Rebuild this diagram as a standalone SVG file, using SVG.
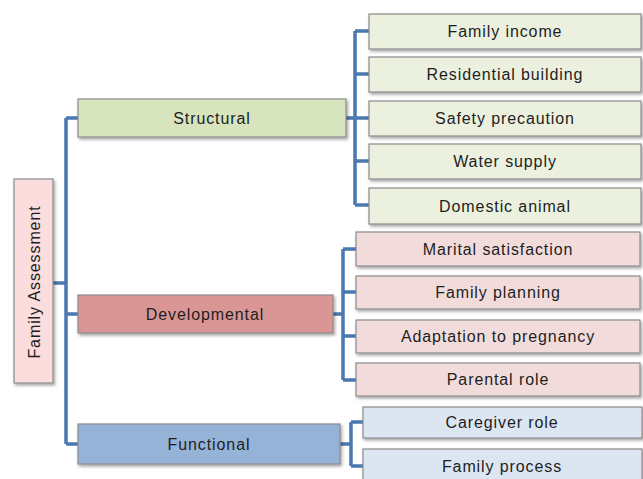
<svg xmlns="http://www.w3.org/2000/svg" width="643" height="479" viewBox="0 0 643 479">
<defs>
<filter id="sh" x="-10%" y="-20%" width="130%" height="160%">
<feDropShadow dx="1.5" dy="2" stdDeviation="1.5" flood-color="#000" flood-opacity="0.35"/>
</filter>
<style>
.b{stroke:#8a8a8a;stroke-width:1.2;filter:url(#sh)}
.t{font-family:"Liberation Sans",Arial,sans-serif;font-size:16px;letter-spacing:0.9px;fill:#1e1e1e;text-anchor:middle;dominant-baseline:central}
.c{fill:none;stroke:#4a78b0;stroke-width:3.5}
.sg{fill:#d7e4bd}.sc{fill:#ebf1de}
.dg{fill:#d99694}.dc{fill:#f2dcdb}
.fg{fill:#95b3d7}.fc{fill:#dce6f2}
.rt{fill:#fadddc}
</style>
</defs>
<rect width="643" height="479" fill="#fff"/>
<g id="connectors">
<path class="c" d="M53 283H66M66 118V444M66 118H78M66 314H78M66 444H78"/>
<path class="c" d="M346 118H355M355 31V205M355 31H369M355 74H369M355 118H369M355 161H369M355 205H369"/>
<path class="c" d="M333 314H343M343 249V380M343 249H356M343 292H356M343 336H356M343 380H356"/>
<path class="c" d="M340 444H351M351 422V466M351 422H363M351 466H363"/>
</g>
<g id="root"><rect class="b rt" x="14" y="179" width="39" height="204"/><text class="t" transform="translate(34 282) rotate(-90)">Family Assessment</text></g>
<g id="structural"><rect class="b sg" x="78" y="99" width="268" height="38"/><text class="t" x="212" y="118">Structural</text></g>
<g id="developmental"><rect class="b dg" x="78" y="295" width="255" height="38"/><text class="t" x="205" y="314">Developmental</text></g>
<g id="functional"><rect class="b fg" x="78" y="424" width="262" height="40"/><text class="t" x="209" y="444">Functional</text></g>
<g id="family-income"><rect class="b sc" x="369" y="14" width="272" height="35"/><text class="t" x="505" y="31">Family income</text></g>
<g id="residential-building"><rect class="b sc" x="369" y="57" width="272" height="35"/><text class="t" x="505" y="74">Residential building</text></g>
<g id="safety-precaution"><rect class="b sc" x="369" y="101" width="272" height="35"/><text class="t" x="505" y="118">Safety precaution</text></g>
<g id="water-supply"><rect class="b sc" x="369" y="144" width="272" height="35"/><text class="t" x="505" y="161">Water supply</text></g>
<g id="domestic-animal"><rect class="b sc" x="369" y="188" width="272" height="36"/><text class="t" x="505" y="206">Domestic animal</text></g>
<g id="marital-satisfaction"><rect class="b dc" x="356" y="232" width="284" height="34"/><text class="t" x="498" y="249">Marital satisfaction</text></g>
<g id="family-planning"><rect class="b dc" x="356" y="276" width="284" height="33"/><text class="t" x="498" y="292">Family planning</text></g>
<g id="adaptation-to-pregnancy"><rect class="b dc" x="356" y="320" width="284" height="33"/><text class="t" x="498" y="336">Adaptation to pregnancy</text></g>
<g id="parental-role"><rect class="b dc" x="356" y="363" width="284" height="33"/><text class="t" x="498" y="379">Parental role</text></g>
<g id="caregiver-role"><rect class="b fc" x="363" y="407" width="279" height="31"/><text class="t" x="502" y="422">Caregiver role</text></g>
<g id="family-process"><rect class="b fc" x="363" y="449" width="279" height="36"/><text class="t" x="502" y="466">Family process</text></g>
</svg>
